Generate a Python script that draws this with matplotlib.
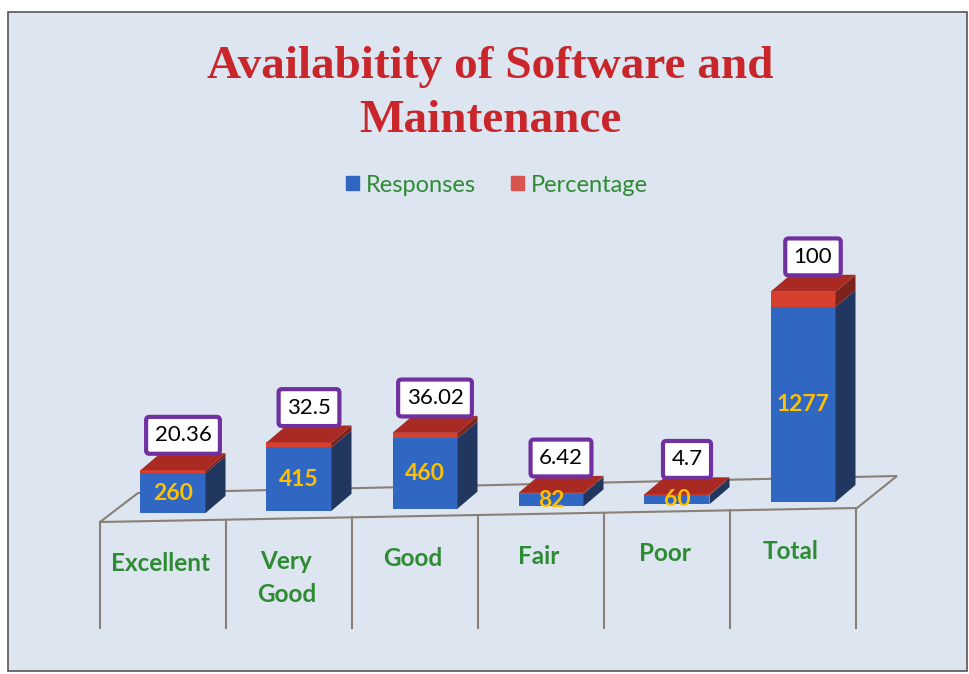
import matplotlib.pyplot as plt
from matplotlib.patches import Polygon, Rectangle, Patch

categories = ["Excellent", "Very\nGood", "Good", "Fair", "Poor", "Total"]
responses = [260, 415, 460, 82, 60, 1277]
percentage = [20.36, 32.5, 36.02, 6.42, 4.7, 100]
pct_labels = ["20.36", "32.5", "36.02", "6.42", "4.7", "100"]

W, H = 970, 674
BG = "#dce5f0"
BLUE, BLUE_SIDE = "#2f67c2", "#22375f"
RED, RED_TOP, RED_SIDE = "#d6412f", "#a92a22", "#7d231d"
GREEN = "#2e8b34"
GOLD = "#ffc000"
PURPLE = "#7030a0"
LINE = "#8a8075"

# pixel <-> data helpers (one category = 126 px, one px = 6.55 units)
X0, CELL = 100, 126
Y0, PER_PX = 513, 6.55
def px_x(px):
    return (px - X0) / CELL - 0.5
def px_y(py):
    return (Y0 - py) * PER_PX

fig = plt.figure(figsize=(W / 100, H / 100), dpi=100)
fig.patch.set_facecolor("white")
ax = fig.add_axes([0, 0, 1, 1])
ax.set_xlim(px_x(0), px_x(W))
ax.set_ylim(px_y(H), px_y(0))
ax.axis("off")

# chart area frame
ax.add_patch(Rectangle((px_x(8), px_y(671)), px_x(967) - px_x(8), px_y(12) - px_y(671),
                       facecolor=BG, edgecolor="#555555", lw=1.2, zorder=0))

# floor (perspective parallelogram) and category grid
fl, fr = (px_x(100), px_y(522)), (px_x(857), px_y(508))
bl, br = (px_x(138), px_y(493)), (px_x(897), px_y(476))
ax.add_patch(Polygon([fl, fr, br, bl], closed=True, fill=False, edgecolor=LINE, lw=1.5, zorder=1))
for k in range(len(categories) + 1):
    x = k - 0.5
    t = (x - fl[0]) / (fr[0] - fl[0])
    y_top = fl[1] + t * (fr[1] - fl[1])
    ax.plot([x, x], [y_top, px_y(628)], color=LINE, lw=1.5, zorder=1)

# 3D-looking stacked bars
bar_w = 65 / CELL
off = 10 / CELL
dx = 20 / CELL
dy = 17 * PER_PX
tilt = 2.2 * PER_PX

def side(x_r, y0, y1, color):
    ax.add_patch(Polygon([(x_r, y0), (x_r + dx, y0 + dy), (x_r + dx, y1 + dy), (x_r, y1)],
                         closed=True, facecolor=color, edgecolor="none", zorder=3))

for i, (r, p) in enumerate(zip(responses, percentage)):
    xc = i + off
    base = tilt * i
    ax.bar(xc, r, bottom=base, width=bar_w, color=BLUE, zorder=3)
    ax.bar(xc, p, bottom=base + r, width=bar_w, color=RED, zorder=3)
    x_l, x_r = xc - bar_w / 2, xc + bar_w / 2
    side(x_r, base, base + r, BLUE_SIDE)
    side(x_r, base + r, base + r + p, RED_SIDE)
    top = base + r + p
    ax.add_patch(Polygon([(x_l, top), (x_l + dx, top + dy), (x_r + dx, top + dy), (x_r, top)],
                         closed=True, facecolor=RED_TOP, edgecolor="none", zorder=3))
    ax.text(xc, base + r / 2, str(r), ha="center", va="center", color=GOLD,
            fontsize=16.5, fontweight="bold", family="Lato", zorder=4)
    ax.annotate(pct_labels[i], xy=(xc + dx / 2, top + dy / 2), xytext=(0, 19),
                textcoords="offset points", ha="center", va="center",
                fontsize=16, family="Lato", color="black", zorder=5,
                bbox=dict(boxstyle="round,pad=0.38,rounding_size=0.15",
                          facecolor="white", edgecolor=PURPLE, lw=3))

for i, cat in enumerate(categories):
    ax.text(i - 0.02, px_y(552 - 2.4 * i), cat, ha="center", va="top", color=GREEN,
            fontsize=17.5, fontweight="bold", family="Lato", linespacing=1.55, zorder=4)

# legend
handles = [Patch(color=BLUE), Patch(color="#d9534f")]
ax.legend(handles, ["Responses", "Percentage"], loc="center",
          bbox_to_anchor=(497 / W, 1 - 185 / H), bbox_transform=fig.transFigure,
          ncol=2, frameon=False, handlelength=0.55, handleheight=0.55,
          handletextpad=0.3, columnspacing=1.5, labelcolor=GREEN,
          prop={"family": "Lato", "size": 17})

# title
for text, yb in [("Availabitity of Software and", 78), ("Maintenance", 132)]:
    fig.text(490 / W, 1 - yb / H, text, ha="center", va="baseline",
             family="Liberation Serif", fontweight="bold", fontsize=34, color="#c8262b")

fig.savefig("out.png", dpi=100)
